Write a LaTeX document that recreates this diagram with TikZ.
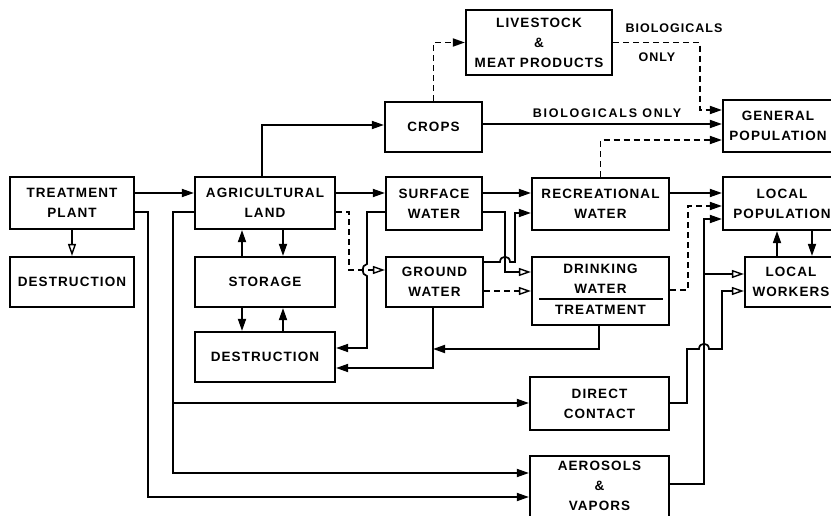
\documentclass[tikz,border=0pt]{standalone}
\usepackage{fontspec}
\setmainfont{Liberation Sans}[LetterSpace=8]
\newfontfamily\widefont{Liberation Sans}[LetterSpace=14]
\usetikzlibrary{arrows.meta}
\begin{document}
\begin{tikzpicture}[x=1pt,y=-1pt,
  box/.style={draw,line width=2.2pt,inner sep=0pt,align=center,
    font=\fontsize{13.5}{20}\selectfont\bfseries},
  conn/.style={line width=1.7pt},
  arr/.style={conn,-{Triangle[length=12pt,width=8pt]}},
  oarr/.style={conn,-{Triangle[open,length=12pt,width=8pt,line width=1.4pt]}},
  darr/.style={arr,dash pattern=on 6pt off 4pt},
  doarr/.style={oarr,dash pattern=on 6pt off 4pt},
  lbl/.style={font=\fontsize{12.5}{14}\selectfont\bfseries,inner sep=0pt}]
\useasboundingbox (0,0) rectangle (831,516);
\clip (0,0) rectangle (831,516);
\fill[white] (0,0) rectangle (831,516);
% boxes
\node[box,minimum width=124pt,minimum height=52pt] (tp) at (72,203) {TREATMENT\\PLANT};
\node[box,minimum width=124pt,minimum height=50pt] (dl) at (72,282) {DESTRUCTION};
\node[box,minimum width=140pt,minimum height=52pt] (ag) at (265,203) {AGRICULTURAL\\LAND};
\node[box,minimum width=140pt,minimum height=50pt] (st) at (265,282) {STORAGE};
\node[box,minimum width=140pt,minimum height=50pt] (dm) at (265,357) {DESTRUCTION};
\node[box,minimum width=96pt,minimum height=53pt] (sw) at (434,203.5) {SURFACE\\WATER};
\node[box,minimum width=97pt,minimum height=50pt] (gw) at (434.5,282) {GROUND\\WATER};
\node[box,minimum width=137pt,minimum height=52pt] (rw) at (600.5,204) {RECREATIONAL\\WATER};
\node[box,minimum width=137pt,minimum height=68pt] (dw) at (600.5,291) {};
\node[box,draw=none,anchor=center] (dwt) at (600.5,279) {DRINKING\\WATER};
\node[box,draw=none,anchor=center] (dwb) at (600.5,310) {TREATMENT};
\draw[line width=1.6pt] (539,299) -- (663,299);
\node[box,minimum width=118pt,minimum height=53pt] (lp) at (782,203.5) {LOCAL\\POPULATION};
\node[box,minimum width=92pt,minimum height=50pt] (lw) at (791,282) {LOCAL\\WORKERS};
\node[box,minimum width=110pt,minimum height=52pt] (gp) at (778,126) {GENERAL\\POPULATION};
\node[box,minimum width=97pt,minimum height=50pt] (crops) at (433.5,127) {CROPS};
\node[box,minimum width=146pt,minimum height=65pt] (ls) at (539,42.5) {LIVESTOCK\\\&\\MEAT PRODUCTS};
\node[box,minimum width=139pt,minimum height=53pt] (dc) at (599.5,403.5) {DIRECT\\CONTACT};
\node[box,minimum width=139pt,minimum height=70pt,align=center] (av) at (599.5,491) {};
\node[box,draw=none] (avt) at (599.5,486) {AEROSOLS\\\&\\VAPORS};
% labels
\node[lbl,font=\fontsize{12.5}{14}\selectfont\bfseries\widefont] (l1) at (607,113) {BIOLOGICALS ONLY};
\node[lbl] (l2) at (674,28) {BIOLOGICALS};
\node[lbl] (l3) at (657,57) {ONLY};
% connectors
\draw[arr] (tp.east |- 0,193) -- (ag.west |- 0,193);
\draw[oarr] (tp.south) -- (dl.north);
\draw[arr] (tp.east |- 0,212) -- (148,212) -- (148,497) -- (av.west |- 0,497);
\draw[arr] (ag.west |- 0,212) -- (173,212) -- (173,473) -- (av.west |- 0,473);
\draw[arr] (173,403) -- (dc.west |- 0,403);
\draw[arr] (ag.north -| 262,0) -- (262,125) -- (crops.west |- 0,125);
\draw[darr] (crops.north) |- (ls.west);
\draw[arr] (crops.east |- 0,124) -- (gp.west |- 0,124);
\draw[darr] (ls.east) -- (700,42.5) -- (700,110) -- (gp.west |- 0,110);
\draw[darr] (rw.north) |- (gp.west |- 0,140);
\draw[arr] (ag.east |- 0,193) -- (sw.west |- 0,193);
\draw[arr] (sw.east |- 0,193) -- (rw.west |- 0,193);
\draw[arr] (rw.east |- 0,193) -- (lp.west |- 0,193);
\draw[doarr] (ag.east |- 0,212) -- (349,212) -- (349,270) -- (gw.west |- 0,270);
\draw[arr] (sw.west |- 0,212) -- (367,212) -- (367,264) .. controls (361,265) and (361,275) .. (367,276) -- (367,348) -- (dm.east |- 0,348);
\draw[oarr] (sw.east |- 0,212) -- (505,212) -- (505,272) -- (dw.west |- 0,272);
\draw[arr] (gw.east |- 0,262) -- (500,262) .. controls (500,255) and (510,255) .. (510,262) -- (515,262) -- (515,213) -- (rw.west |- 0,213);
\draw[doarr] (gw.east |- 0,291) -- (dw.west |- 0,291);
\draw[arr] (gw.south -| 433,0) -- (433,368) -- (dm.east |- 0,368);
\coordinate (gwj) at (433,349);
\draw[arr] (dw.south -| 599,0) -- (599,349) -- (gwj);
\draw[arr] (st.north -| 242,0) -- (ag.south -| 242,0);
\draw[arr] (ag.south -| 283,0) -- (st.north -| 283,0);
\draw[arr] (st.south -| 242,0) -- (dm.north -| 242,0);
\draw[arr] (dm.north -| 283,0) -- (st.south -| 283,0);
\draw[darr] (dw.east |- 0,290) -- (688,290) -- (688,206) -- (lp.west |- 0,206);
\draw[arr] (av.east |- 0,484) -- (704,484) -- (704,219) -- (lp.west |- 0,219);
\draw[oarr] (704,274) -- (lw.west |- 0,274);
\draw[oarr] (dc.east |- 0,403) -- (687,403) -- (687,349) -- (699,349) .. controls (699,342) and (709,342) .. (709,349) -- (722,349) -- (722,291) -- (lw.west |- 0,291);
\draw[arr] (lw.north -| 777,0) -- (lp.south -| 777,0);
\draw[arr] (lp.south -| 812,0) -- (lw.north -| 812,0);
\end{tikzpicture}
\end{document}
